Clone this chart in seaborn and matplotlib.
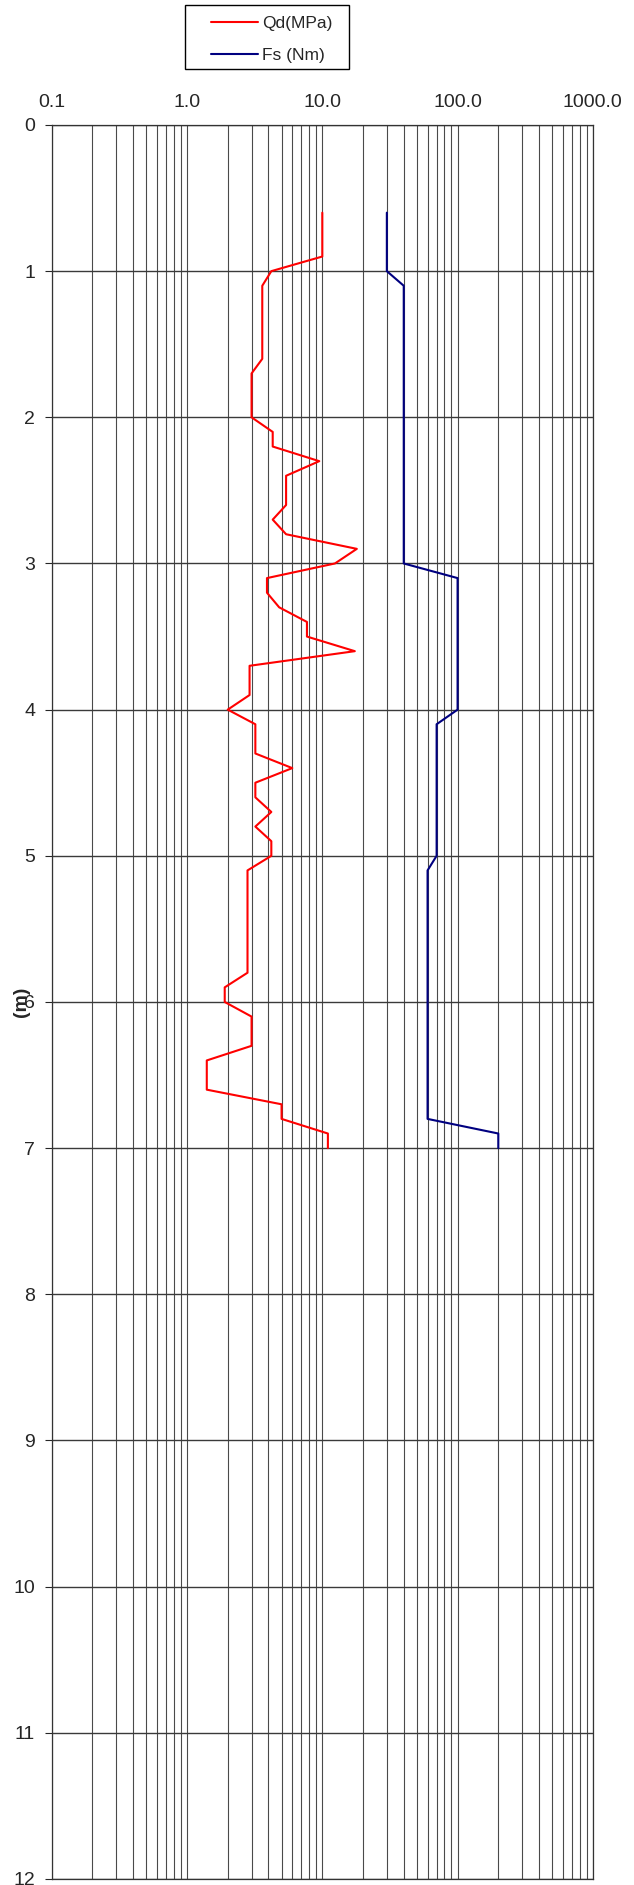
import matplotlib
matplotlib.use("Agg")
import matplotlib.pyplot as plt
import matplotlib.ticker as mticker
from matplotlib.patches import Rectangle
import seaborn as sns

qd_depth = [0.6, 0.7, 0.8, 0.9, 1.0, 1.1, 1.2, 1.3, 1.4, 1.5, 1.6, 1.7, 1.8, 1.9,
            2.0, 2.1, 2.2, 2.3, 2.4, 2.5, 2.6, 2.7, 2.8, 2.9, 3.0, 3.1, 3.2, 3.3,
            3.4, 3.5, 3.6, 3.7, 3.8, 3.9, 4.0, 4.1, 4.2, 4.3, 4.4, 4.5, 4.6, 4.7,
            4.8, 4.9, 5.0, 5.1, 5.2, 5.3, 5.4, 5.5, 5.6, 5.7, 5.8, 5.9, 6.0, 6.1,
            6.2, 6.3, 6.4, 6.5, 6.6, 6.7, 6.8, 6.9, 7.0]
qd_mpa = [10, 10, 10, 10, 4.2, 3.6, 3.6, 3.6, 3.6, 3.6, 3.6, 3.0, 3.0, 3.0,
          3.0, 4.3, 4.3, 9.5, 5.4, 5.4, 5.4, 4.3, 5.4, 18, 12.4, 3.9, 3.9, 4.8,
          7.7, 7.7, 17.4, 2.9, 2.9, 2.9, 2.0, 3.2, 3.2, 3.2, 6.0, 3.2, 3.2, 4.2,
          3.2, 4.2, 4.2, 2.8, 2.8, 2.8, 2.8, 2.8, 2.8, 2.8, 2.8, 1.9, 1.9, 3.0,
          3.0, 3.0, 1.4, 1.4, 1.4, 5.0, 5.0, 11, 11]

fs_depth = [0.6, 1.0, 1.1, 3.0, 3.1, 4.0, 4.1, 5.0, 5.1, 6.8, 6.9, 7.0]
fs_nm = [30, 30, 40, 40, 100, 100, 70, 70, 60, 60, 200, 200]

x_ticks = [0.1, 1, 10, 100, 1000]
x_labels = ["0.1", "1.0", "10.0", "100.0", "1000.0"]
y_ticks = list(range(0, 13))

sns.set_style("white")
plt.rcParams["font.family"] = ["Liberation Sans", "DejaVu Sans"]

fig = plt.figure(figsize=(6.34, 18.85), dpi=100)
ax = fig.add_axes([0.0816, 0.0032, 0.8535, 0.9305])

sns.lineplot(x=qd_mpa, y=qd_depth, orient="y", sort=False, estimator=None,
             color="#FF0000", lw=1.5, ax=ax, label="Qd(MPa)", legend=False)
sns.lineplot(x=fs_nm, y=fs_depth, orient="y", sort=False, estimator=None,
             color="#000080", lw=1.5, ax=ax, label="Fs (Nm)", legend=False)

ax.set_xscale("log")
ax.set_xlim(0.1, 1000)
ax.set_ylim(12, 0)
ax.xaxis.set_major_locator(mticker.FixedLocator(x_ticks))
ax.xaxis.set_major_formatter(mticker.FixedFormatter(x_labels))
ax.xaxis.set_minor_locator(mticker.LogLocator(base=10, subs=range(2, 10)))
ax.xaxis.set_minor_formatter(mticker.NullFormatter())
ax.xaxis.tick_top()
ax.set_yticks(y_ticks)

ax.grid(which="both", axis="x", color="#4a4a4a", lw=0.8)
ax.grid(which="major", axis="y", color="#3a3a3a", lw=1.0)
ax.tick_params(axis="x", which="both", length=0, pad=10, labelsize=14)
ax.tick_params(axis="y", left=True, length=5, width=0.8, direction="out",
               pad=7, labelsize=14)
for s in ax.spines.values():
    s.set_color("#333333")
    s.set_linewidth(0.9)

ax.set_ylabel("(m)", fontsize=14, fontweight="bold")
ax.yaxis.set_label_coords(-0.041, 0.5)
ax.set_xlabel("")

# legend box above the plot
handles, labels = ax.get_legend_handles_labels()
fig.legend(handles, labels, loc="upper left", bbox_to_anchor=(0.3076, 1.0),
           frameon=False, fontsize=12.5, handlelength=2.7, handletextpad=0.25,
           borderpad=0.4, labelspacing=1.0)
fig.patches.append(Rectangle((0.2918, 0.9634), 0.2587, 0.0340,
                             transform=fig.transFigure, fill=False,
                             edgecolor="black", lw=1.0))

fig.savefig("out.png", dpi=100)
